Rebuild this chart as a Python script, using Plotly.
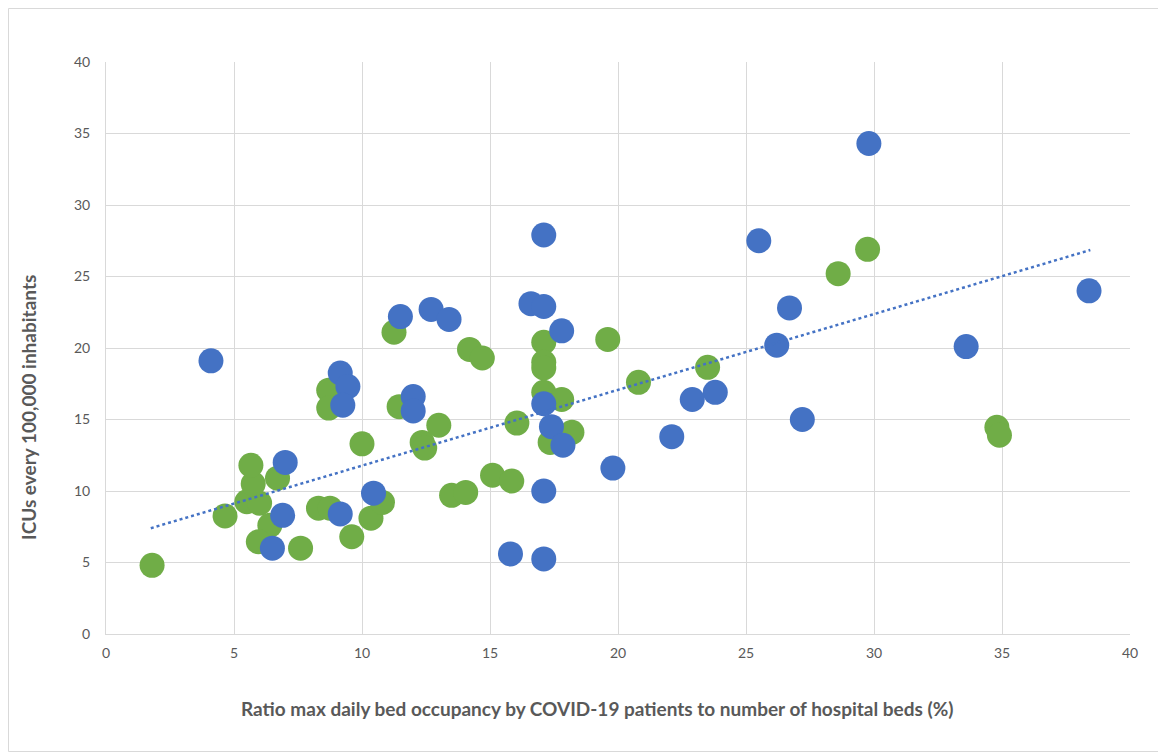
import plotly.graph_objects as go

# Green series (x: ratio %, y: ICUs per 100,000)
green_x = [1.8, 4.65, 5.5, 6.0, 5.75, 5.66, 6.7, 6.4, 5.95, 7.6, 8.3, 8.75, 9.6,
           8.7, 8.7, 10.0, 10.35, 10.8, 11.25, 11.45, 12.35, 12.45, 13.0, 13.5,
           14.05, 14.2, 14.7, 15.1, 15.85, 16.05, 17.1, 17.1, 17.1, 17.1, 17.8,
           18.2, 17.35, 19.6, 20.8, 23.5, 28.6, 29.75, 34.8, 34.9]
green_y = [4.8, 8.25, 9.25, 9.15, 10.5, 11.8, 10.9, 7.6, 6.45, 6.0, 8.8, 8.8, 6.8,
           17.05, 15.8, 13.3, 8.1, 9.2, 21.1, 15.9, 13.4, 13.0, 14.6, 9.7,
           9.9, 19.9, 19.3, 11.1, 10.7, 14.75, 20.4, 19.0, 18.6, 16.9, 16.4,
           14.1, 13.4, 20.6, 17.6, 18.65, 25.2, 26.9, 14.45, 13.9]

# Blue series
blue_x = [4.1, 29.8, 17.1, 25.5, 38.4, 16.6, 17.1, 26.7, 12.7, 13.4, 11.5, 17.8,
          26.2, 33.6, 9.15, 9.45, 9.25, 12.0, 12.0, 23.8, 22.9, 17.1, 27.2,
          17.4, 17.85, 22.1, 19.8, 7.0, 17.1, 10.45, 6.9, 9.15, 6.5, 15.8, 17.1]
blue_y = [19.1, 34.3, 27.9, 27.5, 24.0, 23.1, 22.9, 22.8, 22.7, 22.0, 22.2, 21.2,
          20.2, 20.1, 18.25, 17.3, 16.0, 16.6, 15.6, 16.9, 16.4, 16.1, 15.0,
          14.5, 13.2, 13.8, 11.6, 12.0, 10.0, 9.85, 8.3, 8.4, 6.0, 5.6, 5.25]

# Linear trendline end points
trend_x = [1.75, 38.45]
trend_y = [7.4, 26.85]

x_ticks = [0, 5, 10, 15, 20, 25, 30, 35, 40]
y_ticks = [0, 5, 10, 15, 20, 25, 30, 35, 40]

x_title = "Ratio max daily bed occupancy by COVID-19 patients to number of hospital beds (%)"
y_title = "ICUs every 100,000 inhabitants"

BLUE = "#4472C4"
GREEN = "#70AD47"
FONT = "Lato, 'Open Sans', sans-serif"

fig = go.Figure()
fig.add_trace(go.Scatter(x=green_x, y=green_y, mode="markers",
                         marker=dict(color=GREEN, size=25, line=dict(width=0)),
                         showlegend=False, hoverinfo="x+y"))
fig.add_trace(go.Scatter(x=blue_x, y=blue_y, mode="markers",
                         marker=dict(color=BLUE, size=25, line=dict(width=0)),
                         showlegend=False, hoverinfo="x+y"))
fig.add_trace(go.Scatter(x=trend_x, y=trend_y, mode="lines",
                         line=dict(color=BLUE, width=2.5, dash="dot"),
                         showlegend=False, hoverinfo="skip"))

# page body has an 8px margin; figure origin sits at (8, 8)
W, H = 1158, 745
L, R, T, B = 98, 36, 54, 119
pw, ph = W - L - R, H - T - B

fig.update_layout(
    width=W, height=H,
    margin=dict(l=L, r=R, t=T, b=B),
    paper_bgcolor="white", plot_bgcolor="white",
    font=dict(family=FONT, color="#595959", size=14),
    xaxis=dict(range=[0, 40], tickvals=x_ticks, ticktext=[str(v) for v in x_ticks],
               showgrid=True, gridcolor="#D9D9D9", gridwidth=1,
               zeroline=False, showline=True, linecolor="#D9D9D9",
               ticks="", ticklabelstandoff=6,
               tickfont=dict(size=14, color="#595959")),
    yaxis=dict(range=[0, 40], tickvals=y_ticks, ticktext=[str(v) for v in y_ticks],
               showgrid=True, gridcolor="#D9D9D9", gridwidth=1,
               zeroline=False, showline=True, linecolor="#D9D9D9",
               ticks="", ticklabelstandoff=12,
               tickfont=dict(size=14, color="#595959")),
    annotations=[
        dict(text="<b>" + x_title + "</b>", xref="paper", yref="paper",
             x=(588.5 - L) / pw, y=-(700 - (T + ph)) / ph,
             xanchor="center", yanchor="middle", showarrow=False,
             font=dict(size=19, color="#595959", family=FONT)),
        dict(text="<b>" + y_title + "</b>", xref="paper", yref="paper",
             x=(20 - L) / pw, y=(T + ph - 400) / ph, textangle=-90,
             xanchor="center", yanchor="middle", showarrow=False,
             font=dict(size=19, color="#595959", family=FONT)),
    ],
    shapes=[dict(type="rect", xref="paper", yref="paper",
                 x0=-L / pw + 0.5 / pw, x1=1 + (R - 1.5) / pw,
                 y0=-B / ph + 1.5 / ph, y1=1 + (T - 0.5) / ph,
                 line=dict(color="#D9D9D9", width=1), layer="below")],
)

fig.write_html("out.html")
